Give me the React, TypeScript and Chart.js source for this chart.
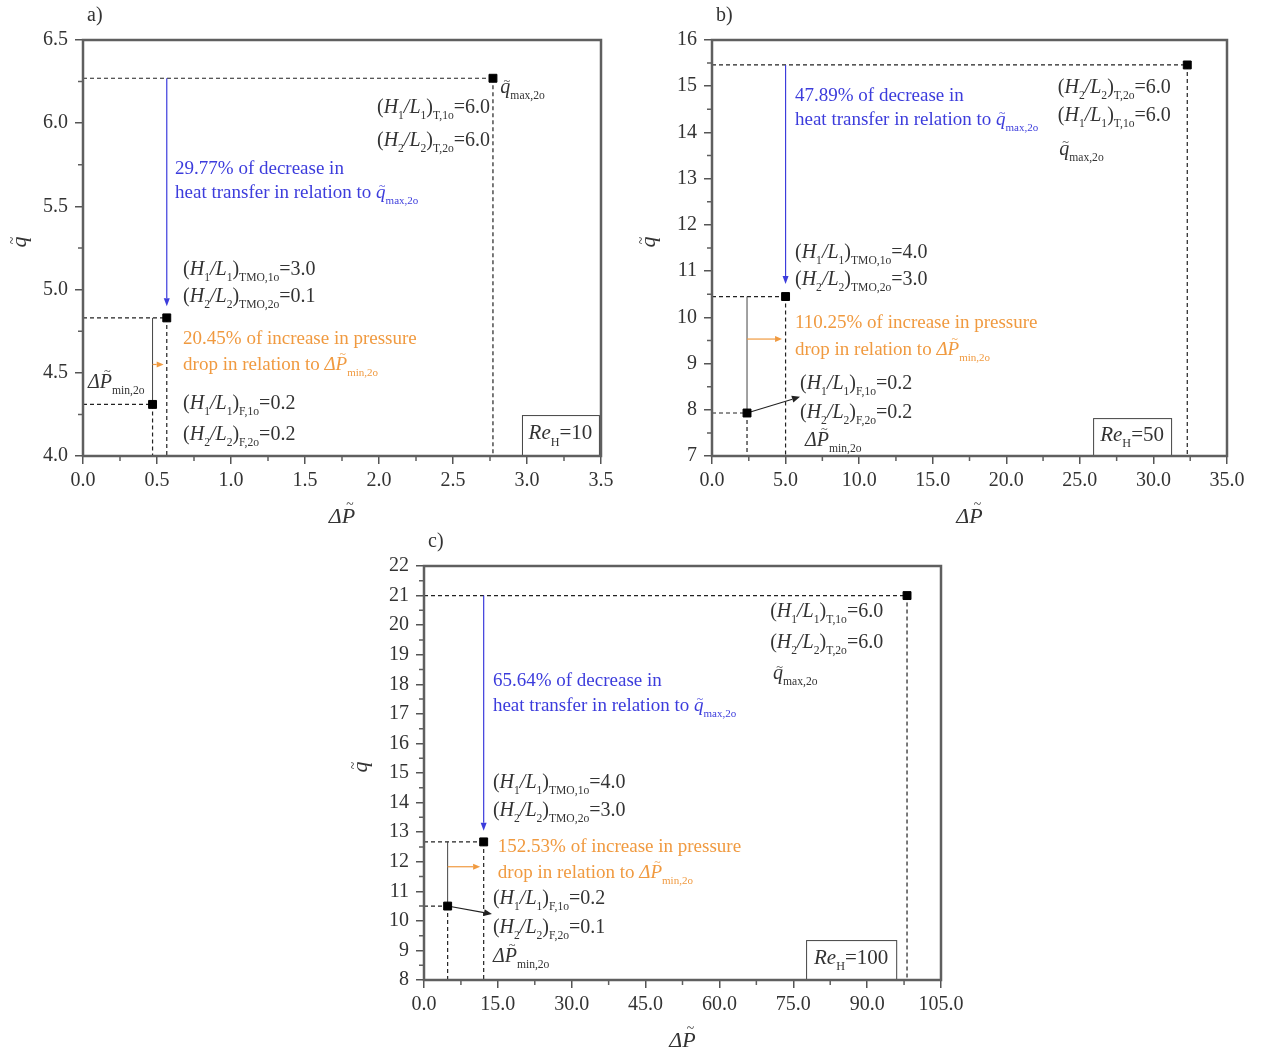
import { useEffect, useRef } from 'react';
import { Chart, registerables } from 'chart.js';

Chart.register(...registerables);

const FONT = '"Liberation Serif", "Times New Roman", serif';
const INK = '#333333';
const BLUE = '#3c3cdc';
const ORANGE = '#f09a40';

// Dimensionless pressure drop and heat transfer of the three highlighted
// configurations, ordered [F (minimum pressure drop), TMO (optimum), T (maximum heat)].
const pressureRe10 = [0.47, 0.566, 2.77];
const heatRe10 = [4.31, 4.83, 6.27];
const pressureRe50 = [2.38, 5.0, 32.3];
const heatRe50 = [7.93, 10.45, 15.46];
const pressureRe100 = [4.8, 12.12, 98.1];
const heatRe100 = [10.5, 12.67, 21.0];

// Axis ranges: [min, max, major step, minor step]
const xAxisRe10 = [0, 3.5, 0.5, 0.25];
const yAxisRe10 = [4.0, 6.5, 0.5, 0.25];
const xAxisRe50 = [0, 35, 5, 2.5];
const yAxisRe50 = [7, 16, 1, 0.5];
const xAxisRe100 = [0, 105, 15, 7.5];
const yAxisRe100 = [8, 22, 1, 0.5];

const reynolds = ['10', '50', '100'];
const decreasePct = ['29.77', '47.89', '65.64'];
const increasePct = ['20.45', '110.25', '152.53'];

// Aspect ratios: (H1/L1)T, (H2/L2)T, (H1/L1)TMO, (H2/L2)TMO, (H1/L1)F, (H2/L2)F
const ratiosRe10 = ['6.0', '6.0', '3.0', '0.1', '0.2', '0.2'];
const ratiosRe50 = ['6.0', '6.0', '4.0', '3.0', '0.2', '0.2'];
const ratiosRe100 = ['6.0', '6.0', '4.0', '3.0', '0.2', '0.1'];

type Seg = [string, string]; // text, flags: i italic, s subscript, t/T tilde (short/tall glyph)

interface Label {
  x: number;
  y: number;
  segs: Seg[];
  align?: 'left' | 'right' | 'center';
  color?: string;
  size?: number;
}

interface PanelSpec {
  box: number[]; // canvas left, top, width, height
  plot: number[]; // plot left, top, right, bottom
  letter: string;
  xs: number[];
  ys: number[];
  xAxis: number[];
  yAxis: number[];
  xDigits: number;
  yDigits: number;
  labels: Label[];
  blueTip: number;
  orange: number[]; // y, x end
  pointer?: number[]; // x, y of arrow head from the F point
  reBox: number[]; // x0, x1, y0, y1
  re: string;
}

const hl = (n: string, sub: string, val: string): Seg[] => [
  ['(', ''],
  ['H', 'i'],
  [n, 's'],
  ['/L', 'i'],
  [n, 's'],
  [')', ''],
  [sub, 's'],
  ['=' + val, ''],
];
const qMax: Seg[] = [['q', 'it'], ['max,2o', 's']];
const dpMin: Seg[] = [['Δ', 'i'], ['P', 'iT'], ['min,2o', 's']];
const blueLines = (pct: string): Seg[][] => [
  [[pct + '% of decrease in', '']],
  [['heat transfer in relation to ', ''], ...qMax],
];
const orangeLines = (pct: string): Seg[][] => [
  [[pct + '% of increase in pressure', '']],
  [['drop in relation to ', ''], ...dpMin],
];

function panelLabels(
  r: string[],
  i: number,
  pos: { t: number[][]; tAlign: 'left' | 'right'; tOrder: number[]; b: number[][]; m: number[][]; o: number[][]; f: number[][] },
): Label[] {
  const tSegs = [hl('1', 'T,1o', r[0]), hl('2', 'T,2o', r[1])];
  const out: Label[] = [];
  pos.tOrder.forEach((k, j) => {
    const p = pos.t[j];
    if (k < 2) out.push({ x: p[0], y: p[1], segs: tSegs[k], align: pos.tAlign });
    else out.push({ x: p[0], y: p[1], segs: qMax, align: 'left' });
  });
  const bl = blueLines(decreasePct[i]);
  out.push({ x: pos.b[0][0], y: pos.b[0][1], segs: bl[0], color: BLUE, size: 19 });
  out.push({ x: pos.b[1][0], y: pos.b[1][1], segs: bl[1], color: BLUE, size: 19 });
  out.push({ x: pos.m[0][0], y: pos.m[0][1], segs: hl('1', 'TMO,1o', r[2]) });
  out.push({ x: pos.m[1][0], y: pos.m[1][1], segs: hl('2', 'TMO,2o', r[3]) });
  const ol = orangeLines(increasePct[i]);
  out.push({ x: pos.o[0][0], y: pos.o[0][1], segs: ol[0], color: ORANGE, size: 19 });
  out.push({ x: pos.o[1][0], y: pos.o[1][1], segs: ol[1], color: ORANGE, size: 19 });
  out.push({ x: pos.f[0][0], y: pos.f[0][1], segs: hl('1', 'F,1o', r[4]) });
  out.push({ x: pos.f[1][0], y: pos.f[1][1], segs: hl('2', 'F,2o', r[5]) });
  out.push({ x: pos.f[2][0], y: pos.f[2][1], segs: dpMin });
  return out;
}

const panels: PanelSpec[] = [
  {
    box: [0, 0, 625, 530],
    plot: [83, 40, 601, 456],
    letter: 'a)',
    xs: pressureRe10,
    ys: heatRe10,
    xAxis: xAxisRe10,
    yAxis: yAxisRe10,
    xDigits: 1,
    yDigits: 1,
    labels: panelLabels(ratiosRe10, 0, {
      t: [[2.82, 6.218], [2.75, 6.097], [2.75, 5.899]],
      tAlign: 'right',
      tOrder: [2, 0, 1],
      b: [[0.622, 5.731], [0.622, 5.587]],
      m: [[0.676, 5.124], [0.676, 4.962]],
      o: [[0.676, 4.709], [0.676, 4.553]],
      f: [[0.676, 4.318], [0.676, 4.132], [0.034, 4.45]],
    }),
    blueTip: 4.9,
    orange: [4.55, 0.545],
    reBox: [2.966, 3.486, 4.0, 4.246],
    re: reynolds[0],
  },
  {
    box: [630, 0, 631, 530],
    plot: [712, 40, 1227, 456],
    letter: 'b)',
    xs: pressureRe50,
    ys: heatRe50,
    xAxis: xAxisRe50,
    yAxis: yAxisRe50,
    xDigits: 1,
    yDigits: 0,
    labels: panelLabels(ratiosRe50, 1, {
      t: [[23.5, 15.0], [23.5, 14.38], [23.6, 13.66]],
      tAlign: 'left',
      tOrder: [1, 0, 2],
      b: [[5.64, 14.81], [5.64, 14.29]],
      m: [[5.64, 11.43], [5.64, 10.83]],
      o: [[5.64, 9.9], [5.64, 9.31]],
      f: [[5.98, 8.58], [5.98, 7.97], [6.32, 7.35]],
    }),
    blueTip: 10.72,
    orange: [9.53, 4.76],
    pointer: [5.98, 8.28],
    reBox: [25.9, 31.2, 7.0, 7.82],
    re: reynolds[1],
  },
  {
    box: [340, 525, 660, 534],
    plot: [424, 566, 941, 980],
    letter: 'c)',
    xs: pressureRe100,
    ys: heatRe100,
    xAxis: xAxisRe100,
    yAxis: yAxisRe100,
    xDigits: 1,
    yDigits: 0,
    labels: panelLabels(ratiosRe100, 2, {
      t: [[70.3, 20.48], [70.3, 19.43], [70.9, 18.38]],
      tAlign: 'left',
      tOrder: [0, 1, 2],
      b: [[14.0, 18.14], [14.0, 17.3]],
      m: [[14.0, 14.7], [14.0, 13.75]],
      o: [[15.0, 12.53], [15.0, 11.65]],
      f: [[14.0, 10.77], [14.0, 9.79], [14.0, 8.84]],
    }),
    blueTip: 13.05,
    orange: [11.83, 11.4],
    pointer: [13.8, 10.23],
    reBox: [77.6, 95.9, 8.0, 9.35],
    re: reynolds[2],
  },
];

function drawRich(
  ctx: CanvasRenderingContext2D,
  segs: Seg[],
  x: number,
  y: number,
  align: 'left' | 'right' | 'center',
  size: number,
  color: string,
) {
  const parts = segs.map(([t, f]) => {
    const sub = f.includes('s');
    const sz = sub ? size * 0.58 : size;
    const font = `${f.includes('i') ? 'italic ' : ''}${sz}px ${FONT}`;
    ctx.font = font;
    return { t, f, sub, font, w: ctx.measureText(t).width };
  });
  const total = parts.reduce((a, p) => a + p.w, 0);
  let cx = align === 'right' ? x - total : align === 'center' ? x - total / 2 : x;
  const base = y + size * 0.32;
  ctx.fillStyle = color;
  ctx.textAlign = 'left';
  ctx.textBaseline = 'alphabetic';
  for (const p of parts) {
    ctx.font = p.font;
    const by = p.sub ? base + size * 0.3 : base;
    ctx.fillText(p.t, cx, by);
    if (p.f.includes('t') || p.f.includes('T')) {
      const tsz = size * 0.62;
      ctx.font = `${tsz}px ${FONT}`;
      const tw = ctx.measureText('~').width;
      const ty = by - size * (p.f.includes('T') ? 0.64 : 0.42);
      ctx.fillText('~', cx + p.w / 2 - tw / 2 + size * 0.07, ty);
    }
    cx += p.w;
  }
}

function arrow(
  ctx: CanvasRenderingContext2D,
  x1: number,
  y1: number,
  x2: number,
  y2: number,
  color: string,
  lw: number,
  head = 8,
  half = 3.5,
) {
  const ang = Math.atan2(y2 - y1, x2 - x1);
  const bx = x2 - Math.cos(ang) * head;
  const by = y2 - Math.sin(ang) * head;
  ctx.save();
  ctx.strokeStyle = color;
  ctx.fillStyle = color;
  ctx.lineWidth = lw;
  ctx.setLineDash([]);
  ctx.beginPath();
  ctx.moveTo(x1, y1);
  ctx.lineTo(bx, by);
  ctx.stroke();
  ctx.beginPath();
  ctx.moveTo(x2, y2);
  ctx.lineTo(bx + Math.sin(ang) * half, by - Math.cos(ang) * half);
  ctx.lineTo(bx - Math.sin(ang) * half, by + Math.cos(ang) * half);
  ctx.closePath();
  ctx.fill();
  ctx.restore();
}

function makePlugin(p: PanelSpec) {
  return {
    id: 'panelDecor',
    beforeDatasetsDraw(chart: any) {
      const ctx: CanvasRenderingContext2D = chart.ctx;
      const xs = chart.scales.x;
      const ys = chart.scales.y;
      const { left, bottom } = chart.chartArea;
      const px = p.xs.map((v) => xs.getPixelForValue(v));
      const py = p.ys.map((v) => ys.getPixelForValue(v));
      ctx.save();
      // dashed guides from every point to both axes
      ctx.strokeStyle = '#222';
      ctx.lineWidth = 1.2;
      ctx.setLineDash([4, 3]);
      for (let i = 0; i < px.length; i++) {
        ctx.beginPath();
        ctx.moveTo(left, py[i]);
        ctx.lineTo(px[i], py[i]);
        ctx.moveTo(px[i], py[i]);
        ctx.lineTo(px[i], bottom);
        ctx.stroke();
      }
      ctx.setLineDash([]);
      // solid connector between F and TMO heat levels
      ctx.strokeStyle = '#444';
      ctx.lineWidth = 1;
      ctx.beginPath();
      ctx.moveTo(px[0], py[0]);
      ctx.lineTo(px[0], py[1]);
      ctx.stroke();
      // heat-transfer decrease arrow
      arrow(ctx, px[1], py[2], px[1], ys.getPixelForValue(p.blueTip), BLUE, 1.2, 8, 3);
      // pressure-drop increase arrow
      const oy = ys.getPixelForValue(p.orange[0]);
      arrow(ctx, px[0], oy, xs.getPixelForValue(p.orange[1]), oy, ORANGE, 1.2, 7, 3);
      if (p.pointer) {
        arrow(ctx, px[0], py[0], xs.getPixelForValue(p.pointer[0]), ys.getPixelForValue(p.pointer[1]), '#222', 1.1, 8, 3.5);
      }
      ctx.restore();
    },
    afterDatasetsDraw(chart: any) {
      const ctx: CanvasRenderingContext2D = chart.ctx;
      const xs = chart.scales.x;
      const ys = chart.scales.y;
      const { left, right, top, bottom } = chart.chartArea;
      ctx.save();
      // annotation texts
      for (const l of p.labels) {
        drawRich(ctx, l.segs, xs.getPixelForValue(l.x), ys.getPixelForValue(l.y), l.align || 'left', l.size || 20, l.color || INK);
      }
      // Reynolds number box
      const bx0 = xs.getPixelForValue(p.reBox[0]);
      const bx1 = xs.getPixelForValue(p.reBox[1]);
      const by0 = ys.getPixelForValue(p.reBox[3]);
      const by1 = ys.getPixelForValue(p.reBox[2]);
      ctx.fillStyle = '#fff';
      ctx.fillRect(bx0, by0, bx1 - bx0, by1 - by0);
      ctx.strokeStyle = '#444';
      ctx.lineWidth = 1;
      ctx.strokeRect(bx0 + 0.5, by0 + 0.5, bx1 - bx0, by1 - by0);
      drawRich(ctx, [['Re', 'i'], ['H', 's'], ['=' + p.re, '']], (bx0 + bx1) / 2, (by0 + by1) / 2 - 3, 'center', 21, INK);
      // frame
      ctx.strokeStyle = '#5f5f5f';
      ctx.lineWidth = 2.5;
      ctx.strokeRect(left, top, right - left, bottom - top);
      // minor ticks
      ctx.lineWidth = 1.5;
      ctx.beginPath();
      const [xmin, xmax, xmaj, xmin2] = p.xAxis;
      for (let v = xmin + xmin2; v < xmax; v += xmaj) {
        const x = xs.getPixelForValue(v);
        ctx.moveTo(x, bottom);
        ctx.lineTo(x, bottom + 5);
      }
      const [ymin, ymax, ymaj, ymin2] = p.yAxis;
      for (let v = ymin + ymin2; v < ymax; v += ymaj) {
        const y = ys.getPixelForValue(v);
        ctx.moveTo(left, y);
        ctx.lineTo(left - 5, y);
      }
      ctx.stroke();
      // panel letter and axis titles
      drawRich(ctx, [[p.letter, '']], left + 4, top - 25, 'left', 20, INK);
      drawRich(ctx, [['Δ', 'i'], ['P', 'iT']], (left + right) / 2, bottom + 60, 'center', 22, INK);
      ctx.save();
      ctx.translate(left - 64, (top + bottom) / 2 - 6);
      ctx.rotate(-Math.PI / 2);
      drawRich(ctx, [['q', 'it']], 0, 0, 'center', 22, INK);
      ctx.restore();
      ctx.restore();
    },
  };
}

function Panel({ spec }: { spec: PanelSpec }) {
  const ref = useRef<HTMLCanvasElement | null>(null);
  useEffect(() => {
    const canvas = ref.current;
    if (!canvas) return;
    const [cl, ct, cw, ch] = spec.box;
    const [pl, pt, pr, pb] = spec.plot;
    const tickFont = { family: FONT, size: 20 };
    const chart = new Chart(canvas, {
      type: 'scatter',
      data: {
        datasets: [
          {
            data: spec.xs.map((x, i) => ({ x, y: spec.ys[i] })),
            pointStyle: 'rect',
            pointRadius: 5.6,
            backgroundColor: '#000',
            borderColor: '#000',
            borderWidth: 1,
            clip: false as any,
          },
        ],
      },
      options: {
        animation: false,
        responsive: false,
        devicePixelRatio: 1,
        events: [],
        layout: { padding: { left: 0, top: pt - ct, right: cl + cw - pr, bottom: 0 } },
        plugins: { legend: { display: false }, tooltip: { enabled: false } },
        scales: {
          x: {
            type: 'linear',
            min: spec.xAxis[0],
            max: spec.xAxis[1],
            ticks: {
              stepSize: spec.xAxis[2],
              autoSkip: false,
              maxRotation: 0,
              padding: 5,
              color: INK,
              font: tickFont,
              callback: (v: any) => Number(v).toFixed(spec.xDigits),
            },
            grid: { drawOnChartArea: false, tickLength: 8, color: '#555', lineWidth: 1.5 },
            border: { display: false },
            afterFit: (s: any) => {
              s.height = ct + ch - pb;
            },
          },
          y: {
            type: 'linear',
            min: spec.yAxis[0],
            max: spec.yAxis[1],
            ticks: {
              stepSize: spec.yAxis[2],
              autoSkip: false,
              padding: 7,
              color: INK,
              font: tickFont,
              callback: (v: any) => Number(v).toFixed(spec.yDigits),
            },
            grid: { drawOnChartArea: false, tickLength: 8, color: '#555', lineWidth: 1.5 },
            border: { display: false },
            afterFit: (s: any) => {
              s.width = pl - cl;
            },
          },
        },
      },
      plugins: [makePlugin(spec)],
    } as any);
    return () => chart.destroy();
  }, [spec]);
  const [cl, ct, cw, ch] = spec.box;
  return (
    <canvas
      ref={ref}
      width={cw}
      height={ch}
      style={{ position: 'absolute', left: cl, top: ct, width: cw, height: ch }}
    />
  );
}

export default function App() {
  return (
    <div style={{ position: 'absolute', left: 0, top: 0, width: 1261, height: 1059, background: '#fff' }}>
      {panels.map((p) => (
        <Panel key={p.letter} spec={p} />
      ))}
    </div>
  );
}
